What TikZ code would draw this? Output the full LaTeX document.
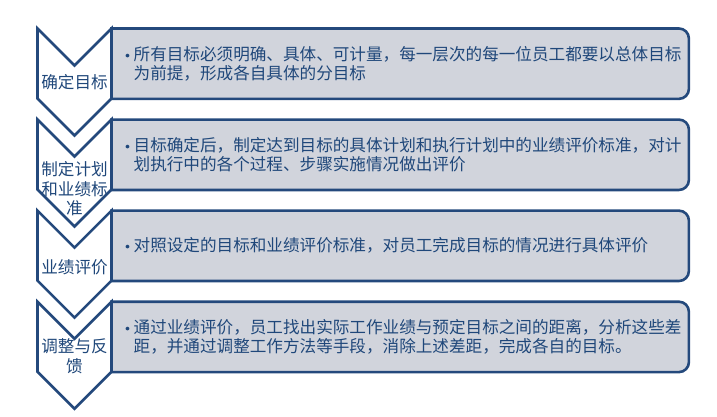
\documentclass[tikz,border=0pt]{standalone}
\usepackage{fontspec}
\newfontfamily\cjk{Noto Sans CJK SC}
\usetikzlibrary{positioning}
\definecolor{rimblue}{HTML}{24497C}
\definecolor{inkblue}{HTML}{1F477A}
\definecolor{paneface}{HTML}{D1D4DC}
\newcommand{\dotmark}{{\normalfont\textbullet}}
\tikzset{panel/.style={rectangle,inner sep=0pt,minimum width=577pt,minimum height=70pt}}
\tikzset{panelrim/.style={draw=rimblue,fill=paneface,line width=2.6pt}}
\tikzset{chevron/.style={draw=rimblue,fill=white,line width=2.6pt,line join=miter}}
\tikzset{chevlabel/.style={inner sep=0pt,align=center,text=inkblue,font=\cjk\fontsize{16.6}{19.5}\selectfont}}
\tikzset{paneltext/.style={inner sep=0pt,align=left,anchor=west,text=inkblue,font=\cjk\fontsize{16.6}{19.5}\selectfont}}
\begin{document}
\begin{tikzpicture}[x=1pt,y=1pt]
\useasboundingbox (0,0) rectangle (717,417);
\begin{scope}[node distance=20.67pt]
	\node (g1) [panel,anchor=north west] at (111.5,388.5) {};
	\node (g2) [panel,below =of g1] {};
	\node (g3) [panel,below =of g2] {};
	\node (g4) [panel,below =of g3] {};
\end{scope}
% panels, rounded on the right only
\draw[panelrim] (g1.south west) -- (g1.north west) -- ([xshift=-10pt]g1.north east) arc[start angle=90,end angle=0,radius=10pt] -- ([yshift=10pt]g1.south east) arc[start angle=0,end angle=-90,radius=10pt] -- cycle;
\draw[panelrim] (g2.south west) -- (g2.north west) -- ([xshift=-10pt]g2.north east) arc[start angle=90,end angle=0,radius=10pt] -- ([yshift=10pt]g2.south east) arc[start angle=0,end angle=-90,radius=10pt] -- cycle;
\draw[panelrim] (g3.south west) -- (g3.north west) -- ([xshift=-10pt]g3.north east) arc[start angle=90,end angle=0,radius=10pt] -- ([yshift=10pt]g3.south east) arc[start angle=0,end angle=-90,radius=10pt] -- cycle;
\draw[panelrim] (g4.south west) -- (g4.north west) -- ([xshift=-10pt]g4.north east) arc[start angle=90,end angle=0,radius=10pt] -- ([yshift=10pt]g4.south east) arc[start angle=0,end angle=-90,radius=10pt] -- cycle;
% chevrons
\draw[chevron] (g1.north west) -- ++(-37,-37) -- ++(-37,37) -- ++(0,-70) -- ++(37,-37) -- ++(37,37) -- cycle;
\draw[chevron] (g2.north west) -- ++(-37,-37) -- ++(-37,37) -- ++(0,-70) -- ++(37,-37) -- ++(37,37) -- cycle;
\draw[chevron] (g3.north west) -- ++(-37,-37) -- ++(-37,37) -- ++(0,-70) -- ++(37,-37) -- ++(37,37) -- cycle;
\draw[chevron] (g4.north west) -- ++(-37,-37) -- ++(-37,37) -- ++(0,-70) -- ++(37,-37) -- ++(37,37) -- cycle;
\node (c1) [chevlabel] at ([xshift=-37pt,yshift=-18.5pt]g1.west) {确定目标};
\node (c2) [chevlabel] at ([xshift=-37pt,yshift=-34pt]g2.west) {制定计划\\和业绩标\\准};
\node (c3) [chevlabel] at ([xshift=-37pt,yshift=-21pt]g3.west) {业绩评价};
\node (c4) [chevlabel] at ([xshift=-37pt,yshift=-19.5pt]g4.west) {调整与反\\馈};
\node (p1) [paneltext] at ([xshift=10pt]g1.west) {\dotmark 所有目标必须明确、具体、可计量，每一层次的每一位员工都要以总体目标\\\phantom{\dotmark}为前提，形成各自具体的分目标};
\node (p2) [paneltext] at ([xshift=10pt]g2.west) {\dotmark 目标确定后，制定达到目标的具体计划和执行计划中的业绩评价标准，对计\\\phantom{\dotmark}划执行中的各个过程、步骤实施情况做出评价};
\node (p3) [paneltext] at ([xshift=10pt]g3.west) {\dotmark 对照设定的目标和业绩评价标准，对员工完成目标的情况进行具体评价};
\node (p4) [paneltext] at ([xshift=10pt]g4.west) {\dotmark 通过业绩评价，员工找出实际工作业绩与预定目标之间的距离，分析这些差\\\phantom{\dotmark}距，并通过调整工作方法等手段，消除上述差距，完成各自的目标。};
\end{tikzpicture}
\end{document}
